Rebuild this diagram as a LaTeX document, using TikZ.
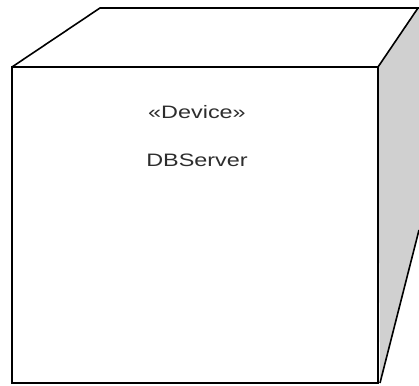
\documentclass[tikz,border=0pt]{standalone}
\usepackage{fontspec}
\setmainfont{Liberation Sans}
\definecolor{sideface}{RGB}{208,208,208}
\definecolor{txt}{RGB}{45,45,45}
\tikzset{
  edge/.style={draw=black, line width=1.6pt, line join=miter},
  label/.style={text=txt, font=\fontsize{18}{20}\selectfont, inner sep=0pt, xscale=1.3, transform shape}
}
\begin{document}
\begin{tikzpicture}[x=1pt,y=-1pt]
\useasboundingbox (0,0) rectangle (419,385);
\clip (0,0) rectangle (419,385);
% named corners
\coordinate (fl) at (12,67);
\coordinate (fr) at (378,67);
\coordinate (bl) at (12,383);
\coordinate (br) at (380,383);
\coordinate (tl) at (100,8);
\coordinate (tr) at (418,8);
\coordinate (far) at (470,8);
\coordinate (sb) at (419,230);
% right face
\fill[sideface] (fr) -- (tr) -- (440,8) -- (440,150) -- (sb) -- (br) -- cycle;
% top face and front face
\draw[edge] (fl) -- (tl) -- (far);
\draw[edge] (fr) -- (tr);
\draw[edge] (fl) rectangle (378,383);
\draw[edge, line width=2.4pt] (fl) -- (bl);
\draw[edge] (sb) -- (br);
% labels
\node[label] (stereo) at (197,112) {«Device»};
\node[label] (name) at (197,160) {DBServer};
\end{tikzpicture}
\end{document}
